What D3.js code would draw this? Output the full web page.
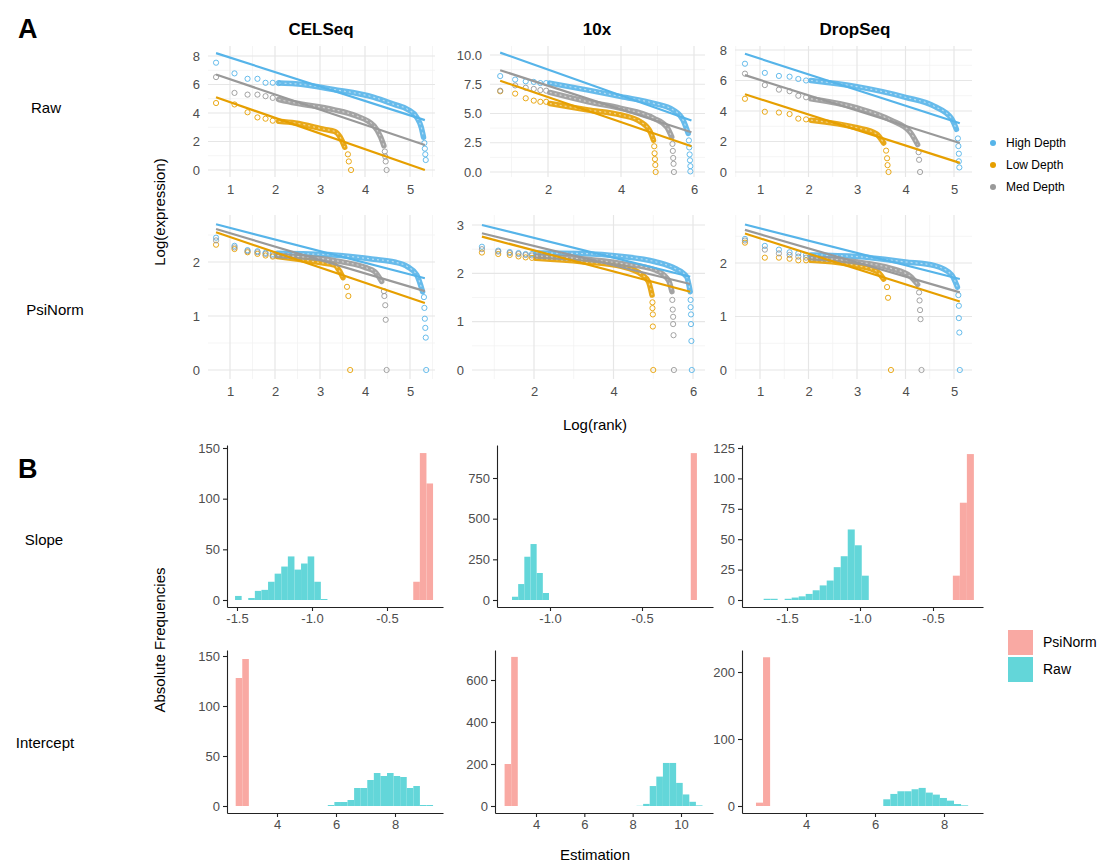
<!DOCTYPE html>
<meta charset="utf-8">
<style>
body { margin: 0; background: #fff; }
svg text { font-family: "Liberation Sans", Arial, Helvetica, sans-serif; }
.gmaj { stroke: #e6e6e6; stroke-width: 1.2; }
.gmin { stroke: #f2f2f2; stroke-width: 0.8; }
</style>
<body>
<script src="https://cdnjs.cloudflare.com/ajax/libs/d3/7.8.5/d3.min.js"></script>
<script>

// ---------- data ----------
var methods = ["CELSeq", "10x", "DropSeq"];
var norms = ["Raw", "PsiNorm"];
var params = ["Slope", "Intercept"];
var depths = ["High Depth", "Low Depth", "Med Depth"];
var depthColors = ["#56B4E9", "#E69F00", "#999999"];
var groups = ["PsiNorm", "Raw"];
var groupColors = ["#F9A9A3", "#63D6D9"];

// fitted lines: [depth, x start, y start, x end, y end]   (log rank, log expression)
// points: [depth, [[x, y], ...]]   dense runs of points: [depth, [[x, y], ...]]
var celseqRawFit = [["High Depth", 0.69, 8.2, 5.33, 3.5], ["Low Depth", 0.69, 5.1, 5.33, 0.0], ["Med Depth", 0.69, 6.7, 5.33, 1.75]];
var celseqRawPts = [
  ["High Depth", [[0.69,7.53],[1.10,6.78],[1.39,6.4],[1.61,6.4],[1.79,6.12],[1.95,6.12],[2.08,6.1],[5.32,1.9],[5.33,1.5],[5.34,1.1],[5.35,0.7]]],
  ["Low Depth", [[0.69,4.7],[1.10,4.6],[1.39,4.05],[1.61,3.69],[1.79,3.6],[1.95,3.46],[3.62,1.1],[3.64,0.6],[3.69,0]]],
  ["Med Depth", [[0.69,6.52],[1.10,5.41],[1.39,5.29],[1.61,5.29],[1.79,5.18],[1.95,5.06],[4.44,1.3],[4.45,0.95],[4.46,0.6],[4.48,0]]]];
var celseqRawBand = [
  ["High Depth", [[2.1,6.1],[2.45,6.05],[3.3,5.65],[4.2,5.1],[4.65,4.6],[4.95,4.25],[5.15,3.7],[5.25,3.0],[5.3,2.3]]],
  ["Low Depth", [[2.08,3.42],[2.45,3.3],[3.1,2.85],[3.33,2.7],[3.45,2.3],[3.55,1.6]]],
  ["Med Depth", [[2.08,4.95],[2.45,4.7],[3.3,4.24],[3.8,3.8],[4.2,3.1],[4.35,2.3],[4.42,1.7]]]];

var tenxRawFit = [["High Depth", 0.69, 10.2, 5.93, 4.4], ["Low Depth", 0.69, 7.8, 5.93, 2.2], ["Med Depth", 0.69, 8.7, 5.93, 3.4]];
var tenxRawPts = [
  ["High Depth", [[0.69,8.2],[1.10,7.9],[1.39,7.75],[1.61,7.7],[1.79,7.6],[1.95,7.6],[5.86,2.7],[5.87,2.1],[5.88,1.5],[5.89,1.0],[5.9,0.5],[5.9,0.05]]],
  ["Low Depth", [[0.69,6.9],[1.10,6.7],[1.39,6.3],[1.61,6.1],[1.79,6.0],[1.95,6.0],[4.91,2.2],[4.92,1.6],[4.93,1.1],[4.94,0.6],[4.95,0]]],
  ["Med Depth", [[0.69,6.95],[1.10,7.4],[1.39,7.2],[1.61,7.1],[1.79,7.0],[1.95,6.95],[5.41,2.4],[5.42,1.8],[5.43,1.2],[5.44,0.7],[5.45,0]]]];
var tenxRawBand = [
  ["High Depth", [[2.05,7.6],[3.1,7.0],[4.0,6.44],[4.9,5.87],[5.43,5.3],[5.7,4.44],[5.84,3.3]]],
  ["Low Depth", [[2.05,5.85],[3.1,5.3],[4.0,4.87],[4.53,4.3],[4.8,3.44],[4.89,2.73]]],
  ["Med Depth", [[2.05,6.8],[3.1,6.0],[4.0,5.44],[4.9,4.59],[5.25,3.87],[5.39,3.0]]]];

var dropseqRawFit = [["High Depth", 0.69, 7.75, 5.12, 3.2], ["Low Depth", 0.69, 5.1, 5.12, 0.6], ["Med Depth", 0.69, 6.35, 5.12, 1.9]];
var dropseqRawPts = [
  ["High Depth", [[0.69,7.1],[1.10,6.5],[1.39,6.3],[1.61,6.25],[1.79,6.1],[1.95,6.0],[5.08,2.2],[5.09,1.7],[5.1,1.2],[5.1,0.7],[5.11,0.3]]],
  ["Low Depth", [[0.69,4.8],[1.10,3.95],[1.39,3.9],[1.61,3.8],[1.79,3.5],[1.95,3.45],[3.6,1.4],[3.62,0.9],[3.63,0.45],[3.65,0]]],
  ["Med Depth", [[0.69,6.45],[1.10,5.7],[1.39,5.4],[1.61,5.3],[1.79,5.0],[1.95,4.9],[4.27,1.3],[4.28,0.8],[4.3,0]]]];
var dropseqRawBand = [
  ["High Depth", [[2.05,6.0],[3.0,5.6],[4.0,4.9],[4.6,4.3],[4.95,3.5],[5.05,2.8]]],
  ["Low Depth", [[2.05,3.4],[3.0,2.9],[3.4,2.5],[3.55,1.9]]],
  ["Med Depth", [[2.05,4.8],[3.0,4.2],[3.7,3.4],[4.1,2.6],[4.25,1.8]]]];

var celseqPsiFit = [["High Depth", 0.69, 2.70, 5.33, 1.70], ["Low Depth", 0.69, 2.55, 5.33, 1.24], ["Med Depth", 0.69, 2.61, 5.33, 1.46]];
var celseqPsiPts = [
  ["High Depth", [[0.69,2.45],[1.10,2.3],[1.39,2.22],[1.61,2.2],[1.79,2.17],[1.95,2.15],[5.31,1.35],[5.32,1.15],[5.33,0.95],[5.34,0.78],[5.35,0.6],[5.36,0]]],
  ["Low Depth", [[0.69,2.32],[1.10,2.24],[1.39,2.18],[1.61,2.15],[1.79,2.12],[1.95,2.1],[3.6,1.54],[3.63,1.37],[3.67,0]]],
  ["Med Depth", [[0.69,2.4],[1.10,2.27],[1.39,2.2],[1.61,2.18],[1.79,2.15],[1.95,2.12],[4.42,1.46],[4.43,1.37],[4.45,1.2],[4.46,0.93],[4.48,0]]]];
var celseqPsiBand = [
  ["High Depth", [[2.05,2.16],[3.3,2.13],[4.2,2.05],[4.65,2.0],[4.95,1.91],[5.15,1.76],[5.28,1.45]]],
  ["Low Depth", [[2.05,2.1],[3.0,1.99],[3.33,1.94],[3.42,1.85],[3.51,1.71]]],
  ["Med Depth", [[2.05,2.12],[3.3,2.03],[4.0,1.9],[4.22,1.82],[4.37,1.64]]]];

var tenxPsiFit = [["High Depth", 0.69, 3.0, 5.93, 1.93], ["Low Depth", 0.69, 2.76, 5.93, 1.62], ["Med Depth", 0.69, 2.83, 5.93, 1.78]];
var tenxPsiPts = [
  ["High Depth", [[0.69,2.55],[1.10,2.47],[1.39,2.44],[1.61,2.42],[1.79,2.4],[1.95,2.4],[5.94,1.45],[5.94,1.3],[5.95,1.15],[5.95,0.95],[5.96,0.6],[5.97,0]]],
  ["Low Depth", [[0.69,2.43],[1.10,2.4],[1.39,2.38],[1.61,2.35],[1.79,2.33],[1.95,2.32],[4.98,1.4],[4.98,1.28],[4.99,1.15],[4.99,0.9],[5.0,0]]],
  ["Med Depth", [[0.69,2.5],[1.10,2.45],[1.39,2.42],[1.61,2.4],[1.79,2.38],[1.95,2.37],[5.48,1.45],[5.49,1.25],[5.5,1.1],[5.5,0.95],[5.51,0.72],[5.52,0]]]];
var tenxPsiBand = [
  ["High Depth", [[2.05,2.42],[3.2,2.41],[4.22,2.35],[5.05,2.24],[5.55,2.1],[5.84,1.93],[5.93,1.62]]],
  ["Low Depth", [[2.05,2.31],[3.2,2.24],[4.22,2.14],[4.72,1.97],[4.88,1.83],[4.97,1.55]]],
  ["Med Depth", [[2.05,2.36],[3.2,2.3],[4.22,2.2],[5.05,2.07],[5.38,1.86],[5.47,1.62]]]];

var dropseqPsiFit = [["High Depth", 0.69, 2.72, 5.12, 1.7], ["Low Depth", 0.69, 2.55, 5.12, 1.28], ["Med Depth", 0.69, 2.62, 5.12, 1.45]];
var dropseqPsiPts = [
  ["High Depth", [[0.69,2.45],[1.10,2.32],[1.39,2.25],[1.61,2.2],[1.79,2.18],[1.95,2.15],[5.09,1.4],[5.1,1.2],[5.1,0.97],[5.11,0.7],[5.12,0]]],
  ["Low Depth", [[0.69,2.38],[1.10,2.1],[1.39,2.1],[1.61,2.08],[1.79,2.05],[1.95,2.05],[3.62,1.55],[3.64,1.35],[3.7,0]]],
  ["Med Depth", [[0.69,2.42],[1.10,2.25],[1.39,2.18],[1.61,2.15],[1.79,2.12],[1.95,2.1],[4.28,1.45],[4.29,1.3],[4.3,1.12],[4.31,0.95],[4.33,0]]]];
var dropseqPsiBand = [
  ["High Depth", [[2.05,2.15],[3.0,2.12],[4.0,2.02],[4.6,1.95],[4.95,1.78],[5.07,1.55]]],
  ["Low Depth", [[2.05,2.05],[3.0,1.95],[3.4,1.85],[3.55,1.7]]],
  ["Med Depth", [[2.05,2.1],[3.0,2.02],[3.7,1.9],[4.1,1.75],[4.25,1.6]]]];

// histograms (30 bins): bin start and width per method, counts as [first bin index, [counts...]]
var slopeBinStart = [-1.513, -1.2065, -1.66];
var slopeBinWidth = [0.044, 0.0335, 0.048];
var interceptBinStart = [2.6, 2.7, 2.55];
var interceptBinWidth = [0.223, 0.273, 0.205];

var celseqSlopeRaw = [0, [4,0,2,9,10,18,26,33,43,30,36,43,18,1]];
var celseqSlopePsi = [27, [18,145,115]];
var tenxSlopeRaw = [0, [20,98,266,344,166,43]];
var tenxSlopePsi = [29, [903]];
var dropseqSlopeRaw = [0, [1,1,0,1,2,3,5,8,12,16,27,36,58,45,20]];
var dropseqSlopePsi = [27, [20,80,120]];
var celseqInterceptRaw = [14, [1,4,4,6,18,18,26,33,30,33,30,29,18,20,1,1]];
var celseqInterceptPsi = [0, [128,147]];
var tenxInterceptRaw = [20, [1,10,95,140,205,205,110,55,20,3]];
var tenxInterceptPsi = [0, [200,710]];
var dropseqInterceptRaw = [18, [10,18,22,22,25,27,20,17,12,8,3,1]];
var dropseqInterceptPsi = [0, [5,222]];

// ---------- layout ----------
var svg = d3.select("body").append("svg").attr("width", 1105).attr("height", 865);
var depthColor = d3.scaleOrdinal().domain(depths).range(depthColors);
var groupColor = d3.scaleOrdinal().domain(groups).range(groupColors);

// scale from two anchor ticks [value, pixel], cut to the panel box
function fitScale(anchors, box) {
  var s = d3.scaleLinear().domain([anchors[0][0], anchors[1][0]]).range([anchors[0][1], anchors[1][1]]);
  return d3.scaleLinear().domain([s.invert(box[0]), s.invert(box[1])]).range(box);
}
function minors(ticks, dom) {
  var step = ticks[1] - ticks[0], lo = d3.min(dom), hi = d3.max(dom), out = [];
  for (var v = ticks[0] - step / 2; v <= hi; v += step) if (v >= lo) out.push(v);
  return out;
}
function styleText(sel, size, color) {
  sel.selectAll("text").attr("font-size", size).attr("fill", color)
    .attr("font-family", "'Liberation Sans', Arial, sans-serif");
}

var f1 = function(d) { return d.toFixed(1); };
var f0 = function(d) { return String(d); };

var scatterCfg = [
  {fit: celseqRawFit, pts: celseqRawPts, band: celseqRawBand, xa: [[1,230],[5,410]], xb: [208,435], ya: [[0,170],[8,56]], yb: [177,46], xt: [1,2,3,4,5], yt: [0,2,4,6,8], yf: f0},
  {fit: tenxRawFit, pts: tenxRawPts, band: tenxRawBand, xa: [[2,548],[6,694]], xb: [490,705], ya: [[0,172],[10,55]], yb: [177,46], xt: [2,4,6], yt: [0,2.5,5,7.5,10], yf: f1},
  {fit: dropseqRawFit, pts: dropseqRawPts, band: dropseqRawBand, xa: [[1,760],[3,857]], xb: [735,972], ya: [[0,172],[8,50]], yb: [177,46], xt: [1,2,3,4,5], yt: [0,2,4,6,8], yf: f0},
  {fit: celseqPsiFit, pts: celseqPsiPts, band: celseqPsiBand, xa: [[1,230],[5,410]], xb: [208,435], ya: [[0,370],[2,262]], yb: [379,215], xt: [1,2,3,4,5], yt: [0,1,2], yf: f0},
  {fit: tenxPsiFit, pts: tenxPsiPts, band: tenxPsiBand, xa: [[2,534],[6,693]], xb: [472,705], ya: [[0,370],[3,225]], yb: [379,215], xt: [2,4,6], yt: [0,1,2,3], yf: f0},
  {fit: dropseqPsiFit, pts: dropseqPsiPts, band: dropseqPsiBand, xa: [[1,760],[3,857]], xb: [735,972], ya: [[0,370],[2,263]], yb: [379,215], xt: [1,2,3,4,5], yt: [0,1,2], yf: f0}
];

scatterCfg.forEach(function(c) {
  var x = fitScale(c.xa, c.xb), y = fitScale(c.ya, c.yb);
  var g = svg.append("g");
  g.selectAll(".vmin").data(minors(c.xt, x.domain())).join("line").attr("class", "gmin")
    .attr("x1", x).attr("x2", x).attr("y1", c.yb[0]).attr("y2", c.yb[1]);
  g.selectAll(".hmin").data(minors(c.yt, y.domain())).join("line").attr("class", "gmin")
    .attr("y1", y).attr("y2", y).attr("x1", c.xb[0]).attr("x2", c.xb[1]);
  g.selectAll(".vmaj").data(c.xt).join("line").attr("class", "gmaj")
    .attr("x1", x).attr("x2", x).attr("y1", c.yb[0]).attr("y2", c.yb[1]);
  g.selectAll(".hmaj").data(c.yt).join("line").attr("class", "gmaj")
    .attr("y1", y).attr("y2", y).attr("x1", c.xb[0]).attr("x2", c.xb[1]);

  var ax = g.append("g").attr("transform", "translate(0," + c.yb[0] + ")")
    .call(d3.axisBottom(x).tickValues(c.xt).tickSize(0).tickPadding(8).tickFormat(f0));
  ax.select(".domain").remove();
  styleText(ax, 13, "#4d4d4d");
  var ay = g.append("g").attr("transform", "translate(" + c.xb[0] + ",0)")
    .call(d3.axisLeft(y).tickValues(c.yt).tickSize(0).tickPadding(8).tickFormat(c.yf));
  ay.select(".domain").remove();
  styleText(ay, 13, "#4d4d4d");

  var line = d3.line().x(function(d) { return x(d[0]); }).y(function(d) { return y(d[1]); }).curve(d3.curveMonotoneX);
  // dense stretches of overlapping open circles read as a thick band
  c.band.forEach(function(b) {
    g.append("path").attr("d", line(b[1])).attr("fill", "none").attr("stroke", depthColor(b[0]))
      .attr("stroke-width", 5.5).attr("stroke-linecap", "round").attr("stroke-linejoin", "round").attr("opacity", 0.9);
    g.append("path").attr("d", line(b[1])).attr("fill", "none").attr("stroke", "#fff")
      .attr("stroke-width", 1.2).attr("stroke-dasharray", "2,3").attr("opacity", 0.5);
  });
  c.pts.forEach(function(p) {
    g.selectAll(null).data(p[1]).join("circle")
      .attr("cx", function(d) { return x(d[0]); }).attr("cy", function(d) { return y(d[1]); })
      .attr("r", 2.6).attr("fill", "none").attr("stroke", depthColor(p[0])).attr("stroke-width", 0.9);
  });
  c.fit.forEach(function(f) {
    g.append("line").attr("x1", x(f[1])).attr("y1", y(f[2])).attr("x2", x(f[3])).attr("y2", y(f[4]))
      .attr("stroke", depthColor(f[0])).attr("stroke-width", 2.2);
  });
});

// ---------- histograms ----------
var histCfg = [
  {start: slopeBinStart[0], w: slopeBinWidth[0], psi: celseqSlopePsi, raw: celseqSlopeRaw, xa: [[-1.5,237],[-1.0,312]], xb: [227,443], ya: [[0,600],[150,448]], yb: [607,445], xt: [-1.5,-1,-0.5], yt: [0,50,100,150], xf: f1},
  {start: slopeBinStart[1], w: slopeBinWidth[1], psi: tenxSlopePsi, raw: tenxSlopeRaw, xa: [[-1.0,550],[-0.5,642]], xb: [497,713], ya: [[0,600],[750,478]], yb: [607,445], xt: [-1,-0.5], yt: [0,250,500,750], xf: f1},
  {start: slopeBinStart[2], w: slopeBinWidth[2], psi: dropseqSlopePsi, raw: dropseqSlopeRaw, xa: [[-1.5,787],[-0.5,933]], xb: [742,983], ya: [[0,600],[125,448]], yb: [607,445], xt: [-1.5,-1,-0.5], yt: [0,25,50,75,100,125], xf: f1},
  {start: interceptBinStart[0], w: interceptBinWidth[0], psi: celseqInterceptPsi, raw: celseqInterceptRaw, xa: [[4,277],[8,395]], xb: [227,443], ya: [[0,806],[150,656]], yb: [813,650], xt: [4,6,8], yt: [0,50,100,150], xf: f0},
  {start: interceptBinStart[1], w: interceptBinWidth[1], psi: tenxInterceptPsi, raw: tenxInterceptRaw, xa: [[4,536],[10,681]], xb: [495,713], ya: [[0,806],[600,680]], yb: [813,650], xt: [4,6,8,10], yt: [0,200,400,600], xf: f0},
  {start: interceptBinStart[2], w: interceptBinWidth[2], psi: dropseqInterceptPsi, raw: dropseqInterceptRaw, xa: [[4,806],[8,944]], xb: [742,983], ya: [[0,806],[200,672]], yb: [813,650], xt: [4,6,8], yt: [0,100,200], xf: f0}
];

histCfg.forEach(function(c) {
  var x = fitScale(c.xa, c.xb), y = fitScale(c.ya, c.yb);
  var g = svg.append("g");
  var bars = [];
  [["PsiNorm", c.psi], ["Raw", c.raw]].forEach(function(s) {
    s[1][1].forEach(function(n, i) {
      if (n > 0) bars.push({grp: s[0], lo: c.start + (s[1][0] + i) * c.w, n: n});
    });
  });
  g.selectAll("rect").data(bars).join("rect")
    .attr("x", function(d) { return x(d.lo); })
    .attr("width", function(d) { return x(d.lo + c.w) - x(d.lo); })
    .attr("y", function(d) { return y(d.n); })
    .attr("height", function(d) { return y(0) - y(d.n); })
    .attr("fill", function(d) { return groupColor(d.grp); });

  var ax = g.append("g").attr("transform", "translate(0," + c.yb[0] + ")")
    .call(d3.axisBottom(x).tickValues(c.xt).tickSize(4).tickSizeOuter(0).tickPadding(3).tickFormat(c.xf));
  var ay = g.append("g").attr("transform", "translate(" + c.xb[0] + ",0)")
    .call(d3.axisLeft(y).tickValues(c.yt).tickSize(4).tickSizeOuter(0).tickPadding(3).tickFormat(f0));
  [ax, ay].forEach(function(a) {
    a.selectAll("path, line").attr("stroke", "#222").attr("stroke-width", 1.1);
    styleText(a, 13, "#4d4d4d");
  });
});

// ---------- labels ----------
function label(txt, x, y, opt) {
  opt = opt || {};
  var t = svg.append("text").text(txt).attr("x", x).attr("y", y)
    .attr("text-anchor", opt.anchor || "middle").attr("font-size", opt.size || 15)
    .attr("font-weight", opt.bold ? "bold" : "normal").attr("fill", opt.color || "#000");
  if (opt.rot) t.attr("transform", "rotate(-90," + x + "," + y + ")");
  return t;
}
label("A", 18, 38, {anchor: "start", size: 27, bold: true});
label("B", 18, 478, {anchor: "start", size: 27, bold: true});
var colCenters = [321, 597, 855];
methods.forEach(function(m, i) { label(m, colCenters[i], 35, {size: 17, bold: true}); });
label(norms[0], 46, 113);
label(norms[1], 55, 315);
label(params[0], 44, 545);
label(params[1], 45, 748);
label("Log(expression)", 165, 212, {rot: true});
label("Log(rank)", 595, 430);
label("Absolute Frequencies", 165, 640, {rot: true});
label("Estimation", 595, 860);

// legends
var legA = svg.append("g").attr("transform", "translate(993,143)");
depths.forEach(function(d, i) {
  legA.append("circle").attr("cx", 0).attr("cy", i * 22).attr("r", 3).attr("fill", depthColor(d));
  legA.append("text").text(d).attr("x", 13).attr("y", i * 22 + 4).attr("font-size", 12).attr("fill", "#000");
});
var legB = svg.append("g").attr("transform", "translate(1008,630)");
groups.forEach(function(d, i) {
  legB.append("rect").attr("x", 0).attr("y", i * 27).attr("width", 25).attr("height", 25).attr("fill", groupColor(d));
  legB.append("text").text(d).attr("x", 35).attr("y", i * 27 + 17).attr("font-size", 14).attr("fill", "#000");
});
</script>
</body>
